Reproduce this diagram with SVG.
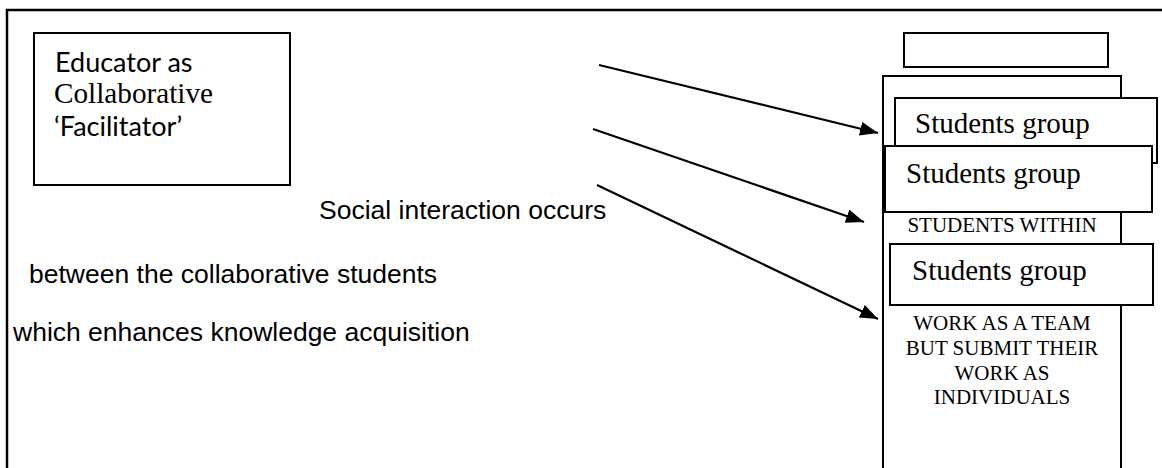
<svg xmlns="http://www.w3.org/2000/svg" width="1162" height="468" viewBox="0 0 1162 468">
<style>
.box{fill:#fff;stroke:#000;stroke-width:2}
.frame{fill:none;stroke:#000;stroke-width:2.5}
.conn{fill:none;stroke:#000;stroke-width:2.2}
.sans{font-family:"Liberation Sans",Arial,sans-serif;font-size:26.5px;fill:#000}
.cal{font-family:Lato,"Open Sans",sans-serif;font-size:27px;fill:#000}
.serif{font-family:"Liberation Serif","Times New Roman",serif;fill:#000}
.grp{font-size:29px}
.cap{font-size:21px;text-anchor:middle}
</style>
<defs>
<marker id="ah" markerUnits="userSpaceOnUse" markerWidth="20" markerHeight="16" refX="18" refY="7" orient="auto">
<path d="M0,0 L18,7 L0,14 Z" fill="#000"/>
</marker>
</defs>
<path class="frame" d="M7,470 V10 H1164"/>
<g id="educator">
<rect class="box" x="34" y="33" width="256" height="152"/>
<text class="cal" x="55" y="72">Educator as</text>
<text class="serif" x="54" y="103" font-size="29" textLength="159" lengthAdjust="spacingAndGlyphs">Collaborative</text>
<text class="cal" x="54" y="136">‘Facilitator’</text>
</g>
<g id="labels">
<text class="sans" x="319" y="219">Social interaction occurs</text>
<text class="sans" x="29" y="283">between the collaborative students</text>
<text class="sans" x="13" y="341">which enhances knowledge acquisition</text>
</g>
<g id="top-box">
<rect class="box" x="904" y="33" width="204" height="34"/>
</g>
<g id="column">
<rect class="box" x="883" y="76" width="238" height="400"/>
<text class="serif cap" x="1002" y="232">STUDENTS WITHIN</text>
<text class="serif cap" x="1002" y="330">WORK AS A TEAM</text>
<text class="serif cap" x="1002" y="355">BUT SUBMIT THEIR</text>
<text class="serif cap" x="1002" y="380">WORK AS</text>
<text class="serif cap" x="1002" y="404">INDIVIDUALS</text>
</g>
<g id="group1">
<rect class="box" x="895" y="98" width="262" height="65"/>
<text class="serif grp" x="915" y="133">Students group</text>
</g>
<g id="group2">
<rect class="box" x="885" y="146" width="267" height="66"/>
<text class="serif grp" x="906" y="183">Students group</text>
</g>
<g id="group3">
<rect class="box" x="890" y="244" width="263" height="61"/>
<text class="serif grp" x="912" y="280">Students group</text>
</g>
<g id="connectors">
<line class="conn" x1="599" y1="65" x2="878" y2="133" marker-end="url(#ah)"/>
<line class="conn" x1="593" y1="129" x2="864" y2="222" marker-end="url(#ah)"/>
<line class="conn" x1="597" y1="185" x2="878" y2="319" marker-end="url(#ah)"/>
</g>
</svg>
